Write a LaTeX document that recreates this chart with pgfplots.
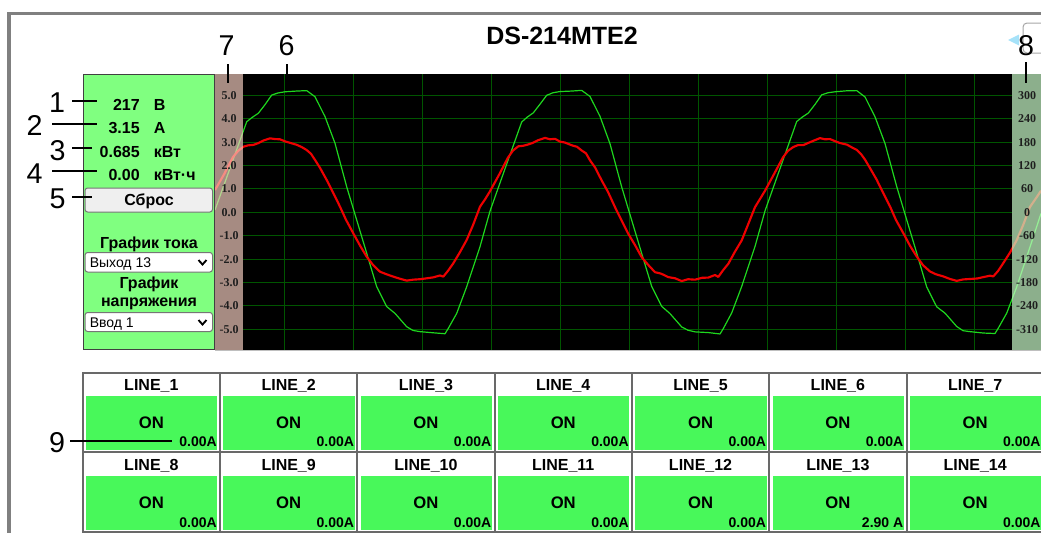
\documentclass[border=0pt]{standalone}
\usepackage{pgfplots}
\pgfplotsset{compat=1.18}
\usepackage{fontspec}
\setmainfont{Liberation Sans}
\newfontfamily\serif{Liberation Serif}

\definecolor{panelgreen}{RGB}{128,255,128}
\definecolor{cellgreen}{RGB}{72,248,90}
\definecolor{gridgreen}{RGB}{0,85,0}
\definecolor{volt}{RGB}{30,215,30}
\definecolor{amp}{RGB}{238,0,0}
\definecolor{stripL}{RGB}{253,212,198}
\definecolor{stripR}{RGB}{200,250,200}
\definecolor{framegray}{RGB}{128,128,128}
\definecolor{cellborder}{RGB}{105,105,105}
\definecolor{ctrlborder}{RGB}{118,118,118}
\definecolor{btnfill}{RGB}{239,239,239}
\definecolor{ticktext}{RGB}{30,30,30}

\newcommand\fs[1]{\fontsize{#1}{#1}\selectfont}

% voltage trace (green), in left-axis units
\pgfplotstableread{
x y
215 0.10
231 2.00
246.7 3.87
252 4.05
258.3 4.23
265 4.60
271.7 5.01
278 5.10
285 5.15
296 5.18
306.7 5.20
315 4.94
325 4.09
335 2.95
346.7 1.09
356.7 -0.33
366.7 -1.75
376.7 -3.18
386.7 -4.03
395 -4.32
406.7 -4.89
413 -5.05
420 -5.10
433.3 -5.15
445 -5.19
448.3 -4.96
456.7 -4.32
466.7 -3.18
480 -1.47
490 0.05
506 1.98
521.7 3.86
527 4.06
533.3 4.25
540 4.62
546.7 5.00
553 5.11
560 5.16
571 5.18
581.7 5.21
590 4.95
600 4.10
610 2.93
621.7 1.08
631.7 -0.34
641.7 -1.76
651.7 -3.17
661.7 -4.02
670 -4.33
681.7 -4.90
688 -5.04
695 -5.11
708.3 -5.14
720 -5.20
723.3 -4.97
731.7 -4.30
741.7 -3.17
755 -1.46
765 0.06
781 1.99
796.7 3.88
802 4.06
808.3 4.24
815 4.61
821.7 5.02
828 5.11
835 5.15
846 5.19
856.7 5.20
865 4.93
875 4.08
885 2.94
896.7 1.10
906.7 -0.32
916.7 -1.74
926.7 -3.19
936.7 -4.04
945 -4.31
956.7 -4.88
963 -5.06
970 -5.10
983.3 -5.16
995 -5.18
998.3 -4.95
1006.7 -4.31
1016.7 -3.19
1030 -1.48
1041 -0.05
}\voltdata

% current trace (red)
\pgfplotstableread{
x y
215 0.95
224 1.62
233 2.36
238 2.62
243.3 2.80
248 2.86
253.3 2.88
258 2.95
263 3.06
270 3.16
275 3.13
280 3.12
285 3.03
290 2.97
297 2.88
302 2.78
306.7 2.66
311 2.50
315 2.24
320 1.90
326.7 1.38
333 0.85
340 0.24
346 -0.32
353.3 -0.90
360 -1.42
366.7 -1.90
373 -2.25
380 -2.54
386 -2.64
393.3 -2.75
400 -2.84
406.7 -2.92
413 -2.88
420 -2.86
427 -2.82
433.3 -2.78
440 -2.70
443.3 -2.75
448 -2.50
453.3 -2.18
460 -1.70
466.7 -1.18
473 -0.55
480 0.24
485 0.55
490 0.90
499 1.60
508 2.34
513 2.64
518.3 2.82
523 2.84
528.3 2.90
533 2.97
538 3.08
545 3.18
550 3.12
555 3.14
560 3.02
565 2.98
572 2.86
577 2.80
581.7 2.64
586 2.52
590 2.22
595 1.92
601.7 1.36
608 0.87
615 0.22
621 -0.30
628.3 -0.92
635 -1.40
641.7 -1.92
648 -2.24
655 -2.56
661 -2.62
668.3 -2.77
675 -2.82
681.7 -2.94
688 -2.86
695 -2.88
702 -2.80
708.3 -2.79
715 -2.68
718.3 -2.76
723 -2.48
728.3 -2.20
735 -1.68
741.7 -1.20
748 -0.53
755 0.22
760 0.57
765 0.92
774 1.63
783 2.35
788 2.63
793.3 2.79
798 2.87
803.3 2.87
808 2.96
813 3.05
820 3.17
825 3.12
830 3.13
835 3.04
840 2.96
847 2.89
852 2.77
856.7 2.67
861 2.49
865 2.25
870 1.89
876.7 1.39
883 0.84
890 0.25
896 -0.33
903.3 -0.89
910 -1.43
916.7 -1.89
923 -2.26
930 -2.53
936 -2.65
943.3 -2.74
950 -2.85
956.7 -2.93
963 -2.87
970 -2.85
977 -2.83
983.3 -2.77
990 -2.71
993.3 -2.74
998 -2.51
1003.3 -2.17
1010 -1.72
1016.7 -1.19
1023 -0.56
1030 0.23
1035 0.54
1041 0.92
}\ampdata

\begin{document}
\begin{tikzpicture}
\path[use as bounding box] (0,0) rectangle (780.75pt,-399.75pt);

% black scope area with grid
\begin{axis}[at={(182.25pt,-55.5pt)}, anchor=north west, scale only axis,
  width=576.75pt, height=207pt,
  xmin=243, xmax=1012, ymin=-5.885, ymax=5.91,
  axis background/.style={fill=black},
  axis line style={draw=none},
  xtick={284,353,...,974}, ytick={-5,-4,...,5},
  xticklabels={}, yticklabels={},
  major tick length=0pt,
  grid=major, major grid style={draw=gridgreen, line width=0.7pt}]
\end{axis}

% traces, running under the two side strips
\begin{axis}[at={(161.25pt,-55.5pt)}, anchor=north west, scale only axis,
  width=619.5pt, height=207pt,
  xmin=215, xmax=1041, ymin=-5.885, ymax=5.91,
  hide axis, clip=true]
\fill[black] (axis cs:215,-5.885) rectangle (axis cs:243,5.91);
\fill[black] (axis cs:1012,-5.885) rectangle (axis cs:1041,5.91);
\addplot[volt, line width=0.9pt, line join=round] table {\voltdata};
\addplot[amp, line width=1.6pt, line join=round] table {\ampdata};
\fill[stripL, opacity=0.66] (axis cs:215,-5.885) rectangle (axis cs:243,5.91);
\fill[stripR, opacity=0.7] (axis cs:1012,-5.885) rectangle (axis cs:1041,5.91);
\end{axis}

\begin{scope}[x=0.75pt,y=-0.75pt]
% outer frame
\fill[framegray] (7,12) rectangle (1041,15);
\fill[framegray] (7,12) rectangle (11,533);
\draw[black!25, line width=1.2pt] (215,350.5) -- (1041,350.5);

% title
\node[anchor=base, font=\bfseries\fs{18.75}] at (562,44.3) {DS-214MTE2};

% axis numbers
\foreach \v/\l in {5/5.0,4/4.0,3/3.0,2/2.0,1/1.0,0/0.0,-1/-1.0,-2/-2.0,-3/-3.0,-4/-4.0,-5/-5.0}
  \node[font=\serif\bfseries\fs{9}, text=ticktext, inner sep=0] at (229,{212.3-23.4*\v}) {\l};
\foreach \v/\l in {5/300,4/240,3/180,2/120,1/60,0/0,-1/-60,-2/-120,-3/-180,-4/-240,-5/-310}
  \node[font=\serif\bfseries\fs{9}, text=ticktext, inner sep=0] at (1027,{212.3-23.4*\v}) {\l};

% left panel
\fill[panelgreen] (83,74.5) rectangle (214,349);
\draw[black!75, line width=0.75pt] (83,74.5) rectangle (214,349);
\begin{scope}[every node/.style={font=\bfseries\fs{12}, inner sep=0}]
\node[anchor=base east] at (140,110) {217};
\node[anchor=base west] at (153.5,110) {В};
\node[anchor=base east] at (140,133) {3.15};
\node[anchor=base west] at (153.5,133) {А};
\node[anchor=base east] at (140,157) {0.685};
\node[anchor=base west] at (153.5,157) {кВт};
\node[anchor=base east] at (140,180) {0.00};
\node[anchor=base west] at (153.5,180) {кВт·ч};
\end{scope}
\draw[ctrlborder, fill=btnfill, rounded corners=2pt, line width=0.75pt] (85,188) rectangle (212.5,212);
\node[anchor=base, font=\bfseries\fs{12}, inner sep=0] at (149,205.7) {Сброс};
\node[anchor=base, font=\bfseries\fs{12}, inner sep=0] at (149,248.3) {График тока};
\draw[ctrlborder, fill=white, rounded corners=2pt, line width=0.75pt] (85,252.5) rectangle (212.5,272);
\node[anchor=base west, font=\fs{10.5}, inner sep=0] at (89.5,267.7) {Выход 13};
\draw[line width=1.4pt] (198.5,260) -- (202.5,264.5) -- (206.5,260);
\node[anchor=base, font=\bfseries\fs{12}, inner sep=0] at (149,288.3) {График};
\node[anchor=base, font=\bfseries\fs{12}, inner sep=0] at (149,306) {напряжения};
\draw[ctrlborder, fill=white, rounded corners=2pt, line width=0.75pt] (85,312.5) rectangle (212.5,331.5);
\node[anchor=base west, font=\fs{10.5}, inner sep=0] at (89.5,327.7) {Ввод 1};
\draw[line width=1.4pt] (198.5,320) -- (202.5,324.5) -- (206.5,320);

% output cells
\foreach \c in {0,...,6}{
  \pgfmathsetmacro\xa{82.7+137.3*\c}
  \pgfmathsetmacro\xb{\xa+137.3}
  \pgfmathsetmacro\xm{\xa+68.65}
  \pgfmathtruncatemacro\na{\c+1}
  \pgfmathtruncatemacro\nb{\c+8}
  \fill[cellgreen] ({\xa+3.3},395.5) rectangle ({\xb-2.7},449.5);
  \fill[cellgreen] ({\xa+3.3},475.5) rectangle ({\xb-2.7},530);
  \draw[cellborder, line width=1.5pt] (\xa,372.5) rectangle (\xb,451.5);
  \draw[cellborder, line width=1.5pt] (\xa,451.5) rectangle (\xb,531.5);
  \node[anchor=base, font=\bfseries\fs{12}, inner sep=0] at (\xm,390) {LINE\_\na};
  \node[anchor=base, font=\bfseries\fs{12.5}, inner sep=0] at (\xm,428.3) {ON};
  \node[anchor=base east, font=\bfseries\fs{10.5}, inner sep=0] at ({\xb-3},446) {0.00A};
  \node[anchor=base, font=\bfseries\fs{12}, inner sep=0] at (\xm,470) {LINE\_\nb};
  \node[anchor=base, font=\bfseries\fs{12.5}, inner sep=0] at (\xm,508.3) {ON};
  \ifnum\c=5
    \node[anchor=base east, font=\bfseries\fs{10.5}, inner sep=0] at ({\xb-3},527) {2.90 A};
  \else
    \node[anchor=base east, font=\bfseries\fs{10.5}, inner sep=0] at ({\xb-3},527) {0.00A};
  \fi
}

% top-right icon
\draw[black!35, fill=white, rounded corners=3pt, line width=0.75pt] (1023,23) rectangle (1050,53);
\fill[cyan!35!white] (1008,40) -- (1019,34.5) -- (1019,45.5) -- cycle;

% callout numbers
\begin{scope}[every node/.style={font=\fs{21.5}, inner sep=0, anchor=base}]
\node at (57,112) {1};
\node at (34.5,135) {2};
\node at (57.5,160) {3};
\node at (34.5,183) {4};
\node at (57.5,208) {5};
\node at (286.5,55) {6};
\node at (226.5,55) {7};
\node at (1026,55) {8};
\node at (57,452) {9};
\end{scope}
\begin{scope}[line width=1.5pt]
\draw (72,100.5) -- (97,100.5);
\draw (52,124) -- (97,124);
\draw (72,148) -- (92,148);
\draw (52,171) -- (97,171);
\draw (72,197) -- (92,197);
\draw (228,64) -- (228,83);
\draw (287,64) -- (287,75);
\draw (1026,62) -- (1026,83);
\draw (70,441) -- (172,441);
\end{scope}
\end{scope}
\end{tikzpicture}
\end{document}
